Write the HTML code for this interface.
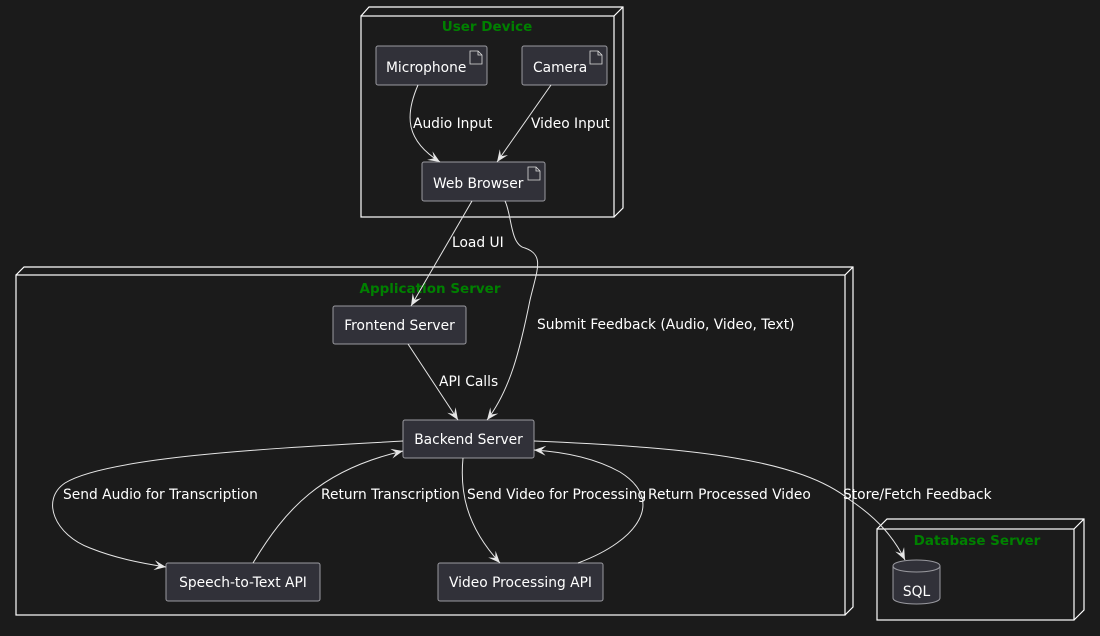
<!DOCTYPE html>
<html><head><meta charset="utf-8"><style>
html,body{margin:0;padding:0;background:#1b1b1b;}
svg{display:block}
text{font-family:"DejaVu Sans","Liberation Sans",sans-serif;font-size:13.8px;fill:#ffffff}
.t{font-weight:bold;fill:#008000;font-size:13.5px}
.n{fill:none;stroke:#ffffff;stroke-width:1.2}
.b{fill:#313139;stroke:#9a9aa0;stroke-width:1}
.e{fill:none;stroke:#e6e6e6;stroke-width:1}
</style></head><body>
<svg width="1100" height="636" viewBox="0 0 1100 636" xmlns="http://www.w3.org/2000/svg">
<defs>
<marker id="a" markerWidth="14" markerHeight="12" refX="12" refY="5" orient="auto" markerUnits="userSpaceOnUse">
<path d="M0,0 L12,5 L0,10 L5,5 z" fill="#e6e6e6"/>
</marker>
</defs>
<rect width="1100" height="636" fill="#1b1b1b"/>

<path class="n" d="M361,16 L369,7 L623,7 L623,208 L614,217 M614,16 L623,7"/>
<rect class="n" x="361" y="16" width="253" height="201"/>
<text class="t" x="487" y="31" text-anchor="middle">User Device</text>

<path class="n" d="M16,275 L24,267 L853,267 L853,607 L845,615 M845,275 L853,267"/>
<rect class="n" x="16" y="275" width="829" height="340"/>
<text class="t" x="430" y="293" text-anchor="middle">Application Server</text>

<path class="n" d="M877,529 L887,519 L1084,519 L1084,610 L1074,620 M1074,529 L1084,519"/>
<rect class="n" x="877" y="529" width="197" height="91"/>
<text class="t" x="977" y="545" text-anchor="middle">Database Server</text>

<g>
<rect class="b" x="376" y="46" width="111" height="39" rx="2"/>
<text x="386" y="72">Microphone</text>
<path d="M470,51 L478,51 L482,55 L482,64 L470,64 Z M478,51 L478,55 L482,55" fill="none" stroke="#ddd" stroke-width="0.8"/>
<rect class="b" x="522" y="46" width="85" height="39" rx="2"/>
<text x="533" y="72">Camera</text>
<path d="M590,51 L598,51 L602,55 L602,64 L590,64 Z M598,51 L598,55 L602,55" fill="none" stroke="#ddd" stroke-width="0.8"/>
<rect class="b" x="422" y="162" width="123" height="39" rx="2"/>
<text x="433" y="188">Web Browser</text>
<path d="M528,167 L536,167 L540,171 L540,180 L528,180 Z M536,167 L536,171 L540,171" fill="none" stroke="#ddd" stroke-width="0.8"/>
</g>

<rect class="b" x="333" y="306" width="133" height="38" rx="2"/>
<text x="399.5" y="330" text-anchor="middle">Frontend Server</text>
<rect class="b" x="403" y="420" width="131" height="38" rx="2"/>
<text x="468.5" y="444" text-anchor="middle">Backend Server</text>
<rect class="b" x="166" y="563" width="154" height="38" rx="2"/>
<text x="243" y="587" text-anchor="middle">Speech-to-Text API</text>
<rect class="b" x="438" y="563" width="165" height="38" rx="2"/>
<text x="520.5" y="587" text-anchor="middle">Video Processing API</text>

<path class="b" d="M893,566 C893,558 940,558 940,566 L940,598 C940,606 893,606 893,598 Z"/>
<path d="M893,566 C893,574 940,574 940,566" fill="none" stroke="#9a9aa0"/>
<text x="916.5" y="596" text-anchor="middle">SQL</text>

<path class="e" marker-end="url(#a)" d="M418,85 C405,115 405,140 440,162"/>
<text x="413" y="128">Audio Input</text>
<path class="e" marker-end="url(#a)" d="M551,85 L497,162"/>
<text x="531" y="128">Video Input</text>

<path class="e" marker-end="url(#a)" d="M472,201 L411,306"/>
<text x="452" y="247">Load UI</text>
<path class="e" marker-end="url(#a)" d="M505,201 C512,215 510,245 525,248 C545,255 537,270 530,300 C520,350 510,390 487,420"/>
<text x="537" y="329">Submit Feedback (Audio, Video, Text)</text>

<path class="e" marker-end="url(#a)" d="M408,344 L458,420"/>
<text x="439" y="386">API Calls</text>

<path class="e" marker-end="url(#a)" d="M403,441 C300,447 110,455 65,483 C40,500 55,535 90,548 C115,558 140,563 166,567"/>
<text x="63" y="499">Send Audio for Transcription</text>
<path class="e" marker-end="url(#a)" d="M253,563 C285,510 320,470 403,451"/>
<text x="321" y="499">Return Transcription</text>
<path class="e" marker-end="url(#a)" d="M463,458 C460,490 465,525 500,563"/>
<text x="467" y="499">Send Video for Processing</text>
<path class="e" marker-end="url(#a)" d="M578,563 C640,540 665,500 620,472 C595,458 565,452 534,450"/>
<text x="648" y="499">Return Processed Video</text>
<path class="e" marker-end="url(#a)" d="M534,441 C700,448 800,460 850,500 C880,520 895,540 905,560"/>
<text x="843" y="499">Store/Fetch Feedback</text>
</svg>
</body></html>
